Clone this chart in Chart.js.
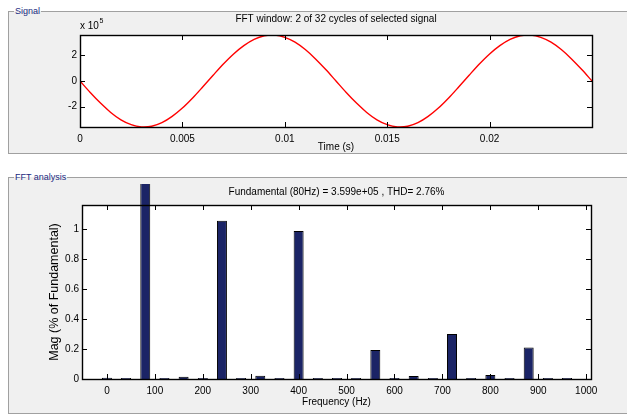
<!DOCTYPE html>
<html>
<head>
<meta charset="utf-8">
<script src="https://cdn.jsdelivr.net/npm/chart.js@4"></script>
<style>
  body { margin: 0; background: #fff; width: 627px; height: 414px; overflow: hidden; position: relative; font-family: "Liberation Sans", Arial, sans-serif; }
  fieldset { position: absolute; left: 8px; width: 700px; margin: 0; padding: 0; border: 1px solid #a0a0a0; background: #f0f0f0; box-sizing: border-box; }
  legend { font-size: 9px; line-height: 11px; color: #1a2a80; padding: 0 1px; margin-left: 5px; }
  #cajaSenal { top: 6px; height: 148px; }
  #cajaFFT { top: 172px; height: 242px; }
  canvas { position: absolute; left: 9px; }
  #graficoSenal { top: 13px; }
  #graficoFFT { top: 179px; }
</style>
</head>
<body>
<fieldset id="cajaSenal"><legend>Signal</legend></fieldset>
<fieldset id="cajaFFT"><legend>FFT analysis</legend></fieldset>
<canvas id="graficoSenal" width="617" height="140"></canvas>
<canvas id="graficoFFT" width="617" height="234"></canvas>
<script>
// Señal (x 10^5), 2 ciclos de 80 Hz
var tiempos = [0, 0.0005, 0.001, 0.0015, 0.002, 0.0025, 0.003, 0.0035, 0.004, 0.0045,
  0.005, 0.0055, 0.006, 0.0065, 0.007, 0.0075, 0.008, 0.0085, 0.009, 0.0095,
  0.01, 0.0105, 0.011, 0.0115, 0.012, 0.0125, 0.013, 0.0135, 0.014, 0.0145,
  0.015, 0.0155, 0.016, 0.0165, 0.017, 0.0175, 0.018, 0.0185, 0.019, 0.0195,
  0.02, 0.0205, 0.021, 0.0215, 0.022, 0.0225, 0.023, 0.0235, 0.024, 0.0245, 0.025];
var senal = [0, -0.90, -1.73, -2.46, -3.04, -3.42, -3.59, -3.54, -3.26, -2.77,
  -2.12, -1.33, -0.45, 0.45, 1.33, 2.12, 2.77, 3.26, 3.54, 3.59,
  3.42, 3.04, 2.46, 1.73, 0.90, 0, -0.90, -1.73, -2.46, -3.04,
  -3.42, -3.59, -3.54, -3.26, -2.77, -2.12, -1.33, -0.45, 0.45, 1.33,
  2.12, 2.77, 3.26, 3.54, 3.59, 3.42, 3.04, 2.46, 1.73, 0.90, 0];
var ticksTiempo = [0, 0.005, 0.01, 0.015, 0.02];
var ticksSenal = [-2, 0, 2];

// Espectro FFT (% of Fundamental)
var frecuencias = [0, 40, 80, 120, 160, 200, 240, 280, 320, 360, 400, 440, 480,
  520, 560, 600, 640, 680, 720, 760, 800, 840, 880, 920, 960];
var magnitudes = [0.008, 0.007, 100, 0.006, 0.015, 0.007, 1.055, 0.007, 0.022, 0.006, 0.987, 0.007, 0.007,
  0.007, 0.193, 0.007, 0.02, 0.007, 0.30, 0.006, 0.027, 0.007, 0.21, 0.007, 0.007];
var ticksFrec = [0, 100, 200, 300, 400, 500, 600, 700, 800, 900, 1000];
var ticksMag = [0, 0.2, 0.4, 0.6, 0.8, 1];

Chart.defaults.font.family = "'Liberation Sans', Arial, sans-serif";
Chart.defaults.font.size = 10;
Chart.defaults.color = "#000";

// fondo blanco, caja y marcas hacia dentro (estilo MATLAB)
var marcoEjes = {
  id: "marcoEjes",
  beforeDraw: function (chart) {
    var a = chart.chartArea;
    var ctx = chart.ctx;
    ctx.save();
    ctx.fillStyle = "#fff";
    ctx.fillRect(a.left, a.top, a.right - a.left, a.bottom - a.top);
    ctx.restore();
  },
  afterDraw: function (chart) {
    var a = chart.chartArea;
    var ctx = chart.ctx;
    var largo = 5;
    ctx.save();
    ctx.strokeStyle = "#000";
    ctx.lineWidth = 1;
    ctx.beginPath();
    chart.scales.x.ticks.forEach(function (t) {
      var px = Math.round(chart.scales.x.getPixelForValue(t.value)) + 0.5;
      ctx.moveTo(px, a.bottom); ctx.lineTo(px, a.bottom - largo);
      ctx.moveTo(px, a.top); ctx.lineTo(px, a.top + largo);
    });
    chart.scales.y.ticks.forEach(function (t) {
      var py = Math.round(chart.scales.y.getPixelForValue(t.value)) + 0.5;
      ctx.moveTo(a.left, py); ctx.lineTo(a.left + largo, py);
      ctx.moveTo(a.right, py); ctx.lineTo(a.right - largo, py);
    });
    ctx.stroke();
    ctx.lineWidth = 1.4;
    ctx.strokeRect(Math.round(a.left) + 0.5, Math.round(a.top) + 0.5,
      Math.round(a.right - a.left), Math.round(a.bottom - a.top));
    ctx.restore();
  }
};

// "x 10^5" encima del eje y
var etiquetaEscala = {
  id: "etiquetaEscala",
  afterDraw: function (chart) {
    var a = chart.chartArea;
    var ctx = chart.ctx;
    ctx.save();
    ctx.fillStyle = "#000";
    ctx.textBaseline = "middle";
    ctx.font = "10px 'Liberation Sans', Arial, sans-serif";
    ctx.fillText("x 10", a.left, a.top - 9);
    var w = ctx.measureText("x 10").width;
    ctx.font = "7px 'Liberation Sans', Arial, sans-serif";
    ctx.fillText("5", a.left + w + 0.5, a.top - 14);
    ctx.restore();
  }
};

function ejeLineal(min, max, lista, padding, tam) {
  return {
    type: "linear",
    min: min,
    max: max,
    offset: false,
    grid: { display: false, drawTicks: false },
    border: { display: false },
    afterBuildTicks: function (escala) {
      escala.ticks = lista.map(function (v) { return { value: v }; });
    },
    afterFit: function (escala) {
      if (escala.isHorizontal()) {
        escala.height = tam;
      } else {
        escala.width = tam;
      }
    },
    ticks: { padding: padding, maxRotation: 0, autoSkip: false, callback: function (v) { return String(v); } }
  };
}

var ejeXSenal = ejeLineal(0, 0.025, ticksTiempo, 6, 26);
ejeXSenal.title = { display: true, text: "Time (s)", padding: { top: 0, bottom: 0 } };
var ejeYSenal = ejeLineal(-3.6, 3.6, ticksSenal, 3, 12);

var configSenal = {
  type: "line",
  data: {
    datasets: [{
      data: tiempos.map(function (t, i) { return { x: t, y: senal[i] }; }),
      borderColor: "#ff0000",
      borderWidth: 1.4,
      pointRadius: 0,
      tension: 0.3,
      fill: false
    }]
  },
  options: {
    responsive: false,
    animation: false,
    events: [],
    layout: { padding: { left: 59, right: 34, top: 0, bottom: 0 } },
    plugins: {
      legend: { display: false },
      tooltip: { enabled: false },
      title: {
        display: true,
        text: "FFT window: 2 of 32 cycles of selected signal",
        fullSize: false,
        color: "#000",
        font: { size: 10, weight: "normal" },
        padding: { top: 0, bottom: 10 }
      }
    },
    scales: { x: ejeXSenal, y: ejeYSenal }
  },
  plugins: [marcoEjes, etiquetaEscala]
};

var ejeXFFT = ejeLineal(-52, 1010, ticksFrec, 6, 29);
ejeXFFT.title = { display: true, text: "Frequency (Hz)", padding: { top: 0, bottom: 0 } };
var ejeYFFT = ejeLineal(0, 1.16, ticksMag, 3, 35);
ejeYFFT.title = { display: true, text: "Mag (% of Fundamental)", font: { size: 12.5 }, padding: { top: 0, bottom: 3 } };

var configFFT = {
  type: "bar",
  data: {
    datasets: [{
      data: frecuencias.map(function (f, i) { return { x: f, y: magnitudes[i] }; }),
      backgroundColor: "#1b2466",
      borderColor: "#000",
      borderWidth: 1,
      barPercentage: 0.65,
      categoryPercentage: 0.8,
      clip: { left: 0, top: 21, right: 0, bottom: 0 }
    }]
  },
  options: {
    responsive: false,
    animation: false,
    events: [],
    layout: { padding: { left: 38, right: 35, top: 0, bottom: 5 } },
    plugins: {
      legend: { display: false },
      tooltip: { enabled: false },
      title: {
        display: true,
        text: "Fundamental (80Hz) = 3.599e+05 , THD= 2.76%",
        fullSize: false,
        color: "#000",
        font: { size: 10, weight: "normal" },
        padding: { top: 7, bottom: 7 }
      }
    },
    scales: { x: ejeXFFT, y: ejeYFFT }
  },
  plugins: [marcoEjes]
};

var graficoSenal = new Chart(document.getElementById("graficoSenal"), configSenal);
var graficoFFT = new Chart(document.getElementById("graficoFFT"), configFFT);
</script>
</body>
</html>
